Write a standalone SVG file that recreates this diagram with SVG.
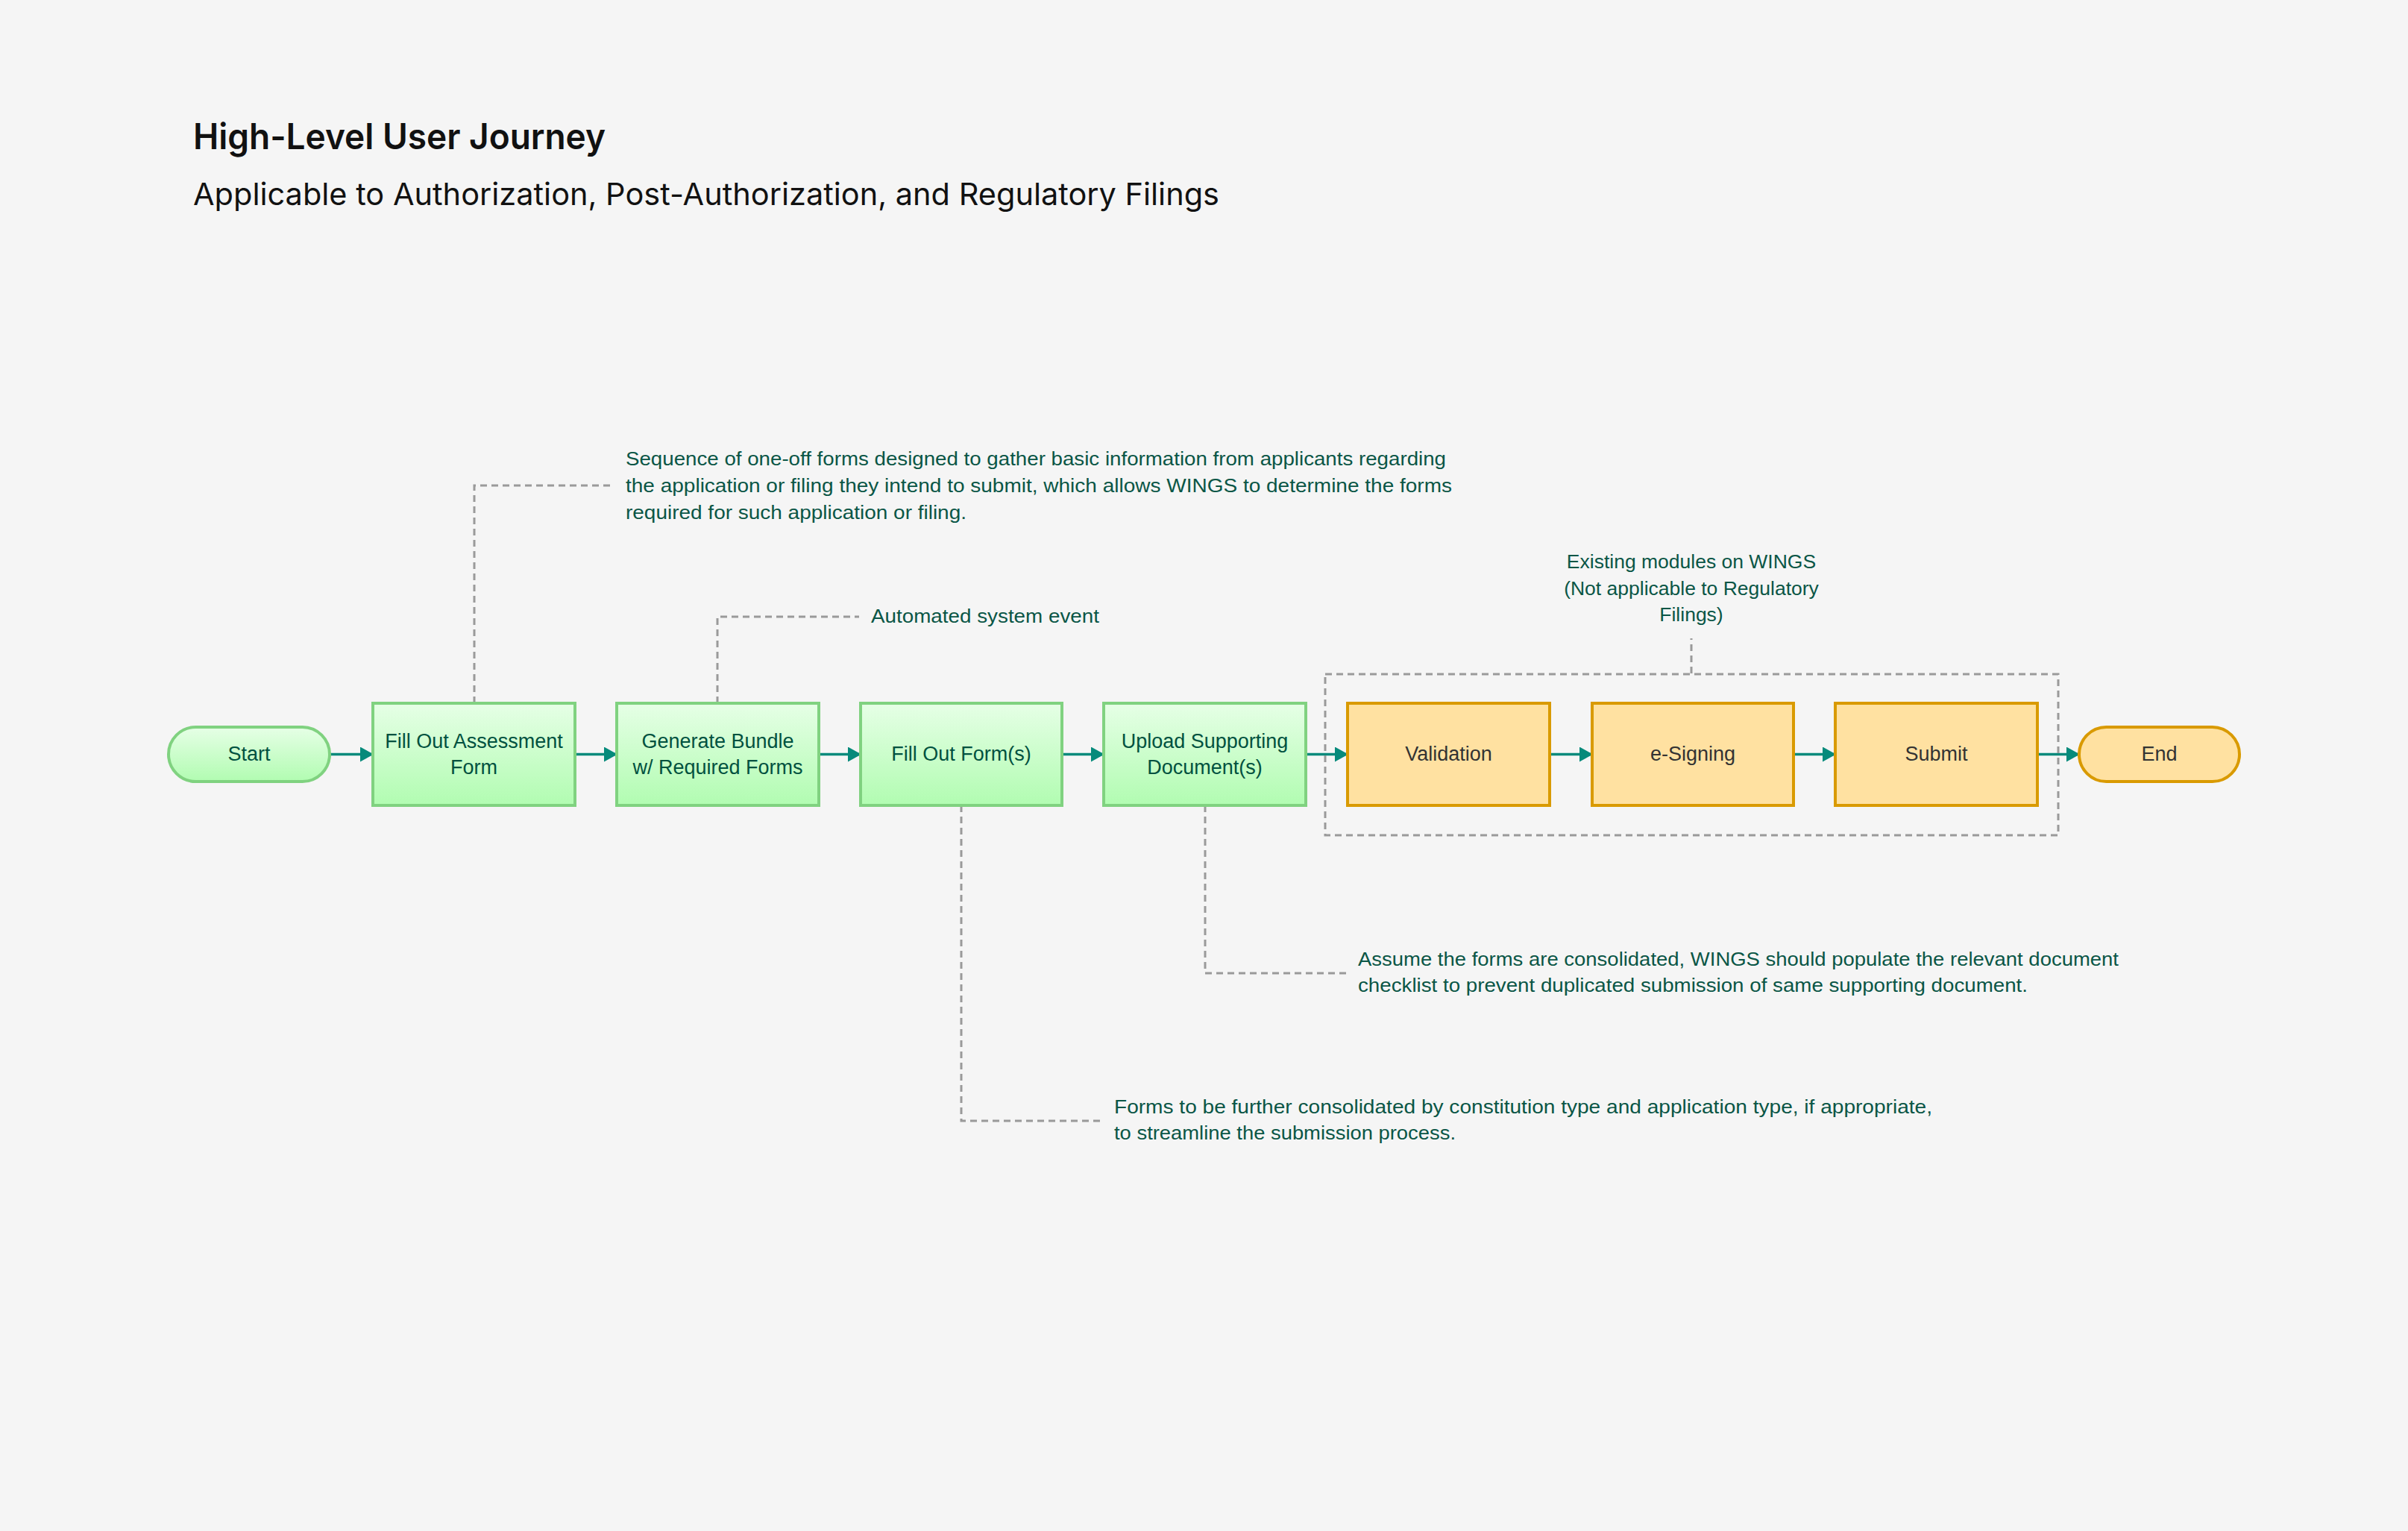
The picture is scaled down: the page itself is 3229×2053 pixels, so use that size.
<svg xmlns="http://www.w3.org/2000/svg" width="3229" height="2053" viewBox="0 0 3229 2053">
<defs>
<linearGradient id="gGreen" x1="0" y1="0" x2="0" y2="1">
<stop offset="0" stop-color="#e6ffe6"/>
<stop offset="1" stop-color="#b1fcb1"/>
</linearGradient>
<marker id="arr" markerUnits="userSpaceOnUse" markerWidth="18" markerHeight="20" refX="17" refY="10" orient="auto">
<path d="M0,0 L18,10 L0,20 Z" fill="#068a7b"/>
</marker>
<style>
.g{fill:url(#gGreen);stroke:#80d280;stroke-width:4}
.o{fill:#ffe1a1;stroke:#d99a00;stroke-width:4}
.nt{font-family:"Liberation Sans",Arial,sans-serif;font-size:27px;fill:#00513f;text-anchor:middle}
.ot{font-family:"Liberation Sans",Arial,sans-serif;font-size:27px;fill:#333333;text-anchor:middle}
.note{font-family:"Liberation Sans",Arial,sans-serif;font-size:26.5px;fill:#0a5646}
.dash{fill:none;stroke:#9a9a9a;stroke-width:3;stroke-dasharray:9 6}
.flow{fill:none;stroke:#068a7b;stroke-width:3.5;marker-end:url(#arr)}
.title{font-family:Inter,"Liberation Sans",sans-serif;fill:#111111}
</style>
</defs>
<rect x="0" y="0" width="3229" height="2053" fill="#f5f5f5"/>

<g id="title">
<text class="title" x="259" y="200" font-size="48" font-weight="600" textLength="553" lengthAdjust="spacingAndGlyphs">High-Level User Journey</text>
<text class="title" x="259" y="275" font-size="41" textLength="1376" lengthAdjust="spacingAndGlyphs">Applicable to Authorization, Post-Authorization, and Regulatory Filings</text>
</g>

<g id="connectors">
<path class="flow" d="M442,1011.5 H500"/>
<path class="flow" d="M771,1011.5 H827"/>
<path class="flow" d="M1098,1011.5 H1154"/>
<path class="flow" d="M1424,1011.5 H1480"/>
<path class="flow" d="M1751,1011.5 H1807"/>
<path class="flow" d="M2078,1011.5 H2135"/>
<path class="flow" d="M2405,1011.5 H2461"/>
<path class="flow" d="M2732,1011.5 H2788"/>
<path class="dash" d="M636,943 V651 H820"/>
<path class="dash" d="M962,943 V827 H1152"/>
<path class="dash" d="M1289,1080 V1503 H1480"/>
<path class="dash" d="M1616,1080 V1305 H1808"/>
<path class="dash" d="M2268,903 V856"/>
</g>

<g id="container">
<rect class="dash" x="1777" y="904" width="983" height="216"/>
</g>

<g id="start">
<rect class="g" x="226" y="975" width="216" height="73" rx="36.5"/>
<text class="nt" x="334" y="1020">Start</text>
</g>
<g id="assessment">
<rect class="g" x="500" y="943" width="271" height="137"/>
<text class="nt" x="635.5" y="1003">Fill Out Assessment</text>
<text class="nt" x="635.5" y="1038">Form</text>
</g>
<g id="bundle">
<rect class="g" x="827" y="943" width="271" height="137"/>
<text class="nt" x="962.5" y="1003">Generate Bundle</text>
<text class="nt" x="962.5" y="1038">w/ Required Forms</text>
</g>
<g id="fillforms">
<rect class="g" x="1154" y="943" width="270" height="137"/>
<text class="nt" x="1289" y="1020">Fill Out Form(s)</text>
</g>
<g id="upload">
<rect class="g" x="1480" y="943" width="271" height="137"/>
<text class="nt" x="1615.5" y="1003">Upload Supporting</text>
<text class="nt" x="1615.5" y="1038">Document(s)</text>
</g>
<g id="validation">
<rect class="o" x="1807" y="943" width="271" height="137"/>
<text class="ot" x="1942.5" y="1020">Validation</text>
</g>
<g id="esigning">
<rect class="o" x="2135" y="943" width="270" height="137"/>
<text class="ot" x="2270" y="1020">e-Signing</text>
</g>
<g id="submit">
<rect class="o" x="2461" y="943" width="271" height="137"/>
<text class="ot" x="2596.5" y="1020">Submit</text>
</g>
<g id="end">
<rect class="o" x="2788" y="975" width="215" height="73" rx="36.5"/>
<text class="ot" x="2895.5" y="1020">End</text>
</g>

<g id="note-assessment">
<text class="note" x="839" y="624" textLength="1100" lengthAdjust="spacingAndGlyphs">Sequence of one-off forms designed to gather basic information from applicants regarding</text>
<text class="note" x="839" y="660" textLength="1108" lengthAdjust="spacingAndGlyphs">the application or filing they intend to submit, which allows WINGS to determine the forms</text>
<text class="note" x="839" y="696" textLength="457" lengthAdjust="spacingAndGlyphs">required for such application or filing.</text>
</g>
<g id="note-bundle">
<text class="note" x="1168" y="835" textLength="306" lengthAdjust="spacingAndGlyphs">Automated system event</text>
</g>
<g id="note-forms">
<text class="note" x="1494" y="1493" textLength="1097" lengthAdjust="spacingAndGlyphs">Forms to be further consolidated by constitution type and application type, if appropriate,</text>
<text class="note" x="1494" y="1528" textLength="458" lengthAdjust="spacingAndGlyphs">to streamline the submission process.</text>
</g>
<g id="note-upload">
<text class="note" x="1821" y="1295" textLength="1020" lengthAdjust="spacingAndGlyphs">Assume the forms are consolidated, WINGS should populate the relevant document</text>
<text class="note" x="1821" y="1330" textLength="898" lengthAdjust="spacingAndGlyphs">checklist to prevent duplicated submission of same supporting document.</text>
</g>
<g id="note-existing">
<text class="note" x="2268" y="762" text-anchor="middle">Existing modules on WINGS</text>
<text class="note" x="2268" y="798" text-anchor="middle">(Not applicable to Regulatory</text>
<text class="note" x="2268" y="833" text-anchor="middle">Filings)</text>
</g>
</svg>
